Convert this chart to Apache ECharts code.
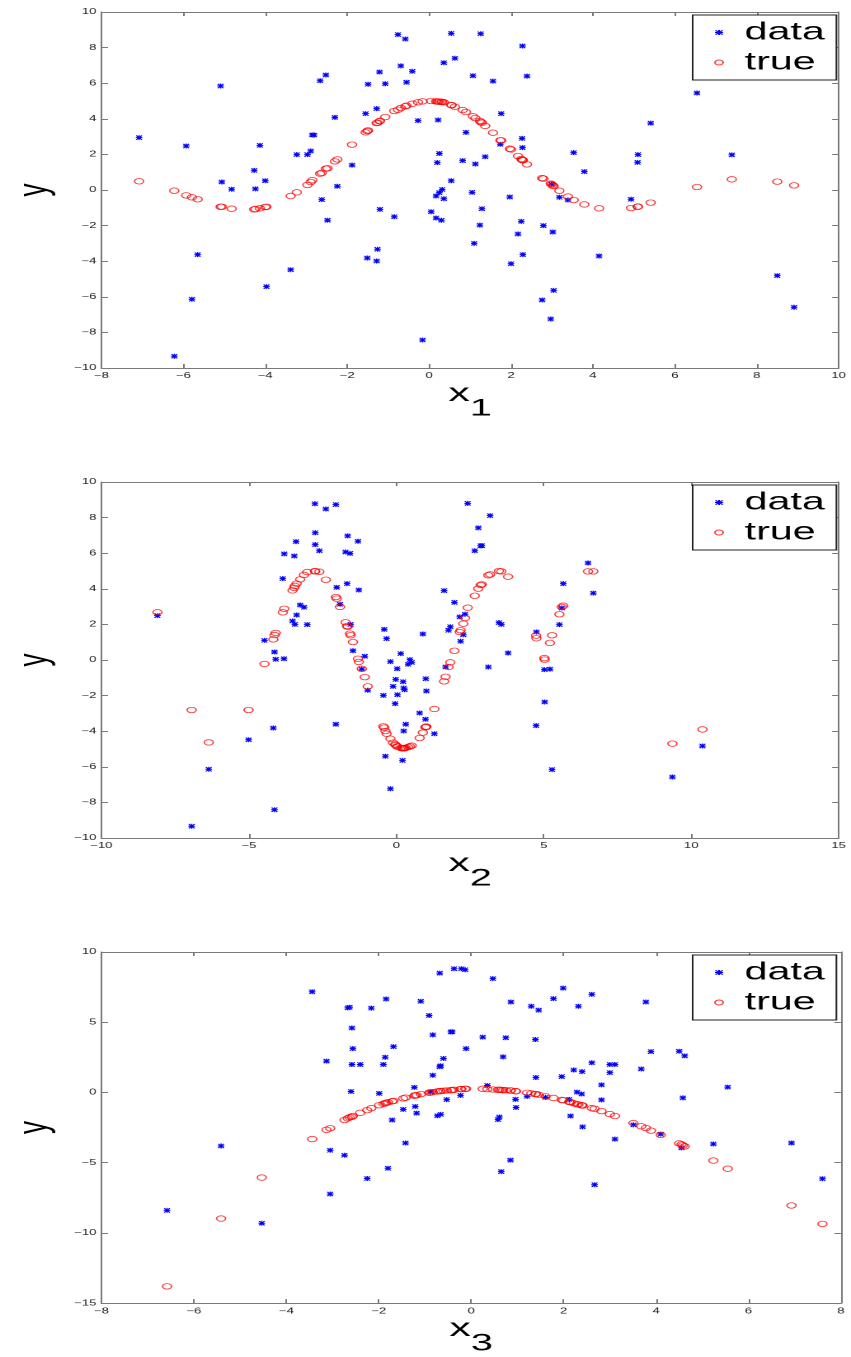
<!DOCTYPE html>
<html>
<head>
<meta charset="utf-8">
<script src="https://cdn.jsdelivr.net/npm/echarts@6.0.0/dist/echarts.min.js"></script>
<style>
  html, body { margin: 0; padding: 0; background: #fff; overflow: hidden; }
  /* the original figure is stretched horizontally, so draw narrow and stretch */
  #chart { width: 516px; height: 1357px; transform: scaleX(1.6492); transform-origin: 0 0; }
</style>
</head>
<body>
<div id="chart"></div>
<script>
// panel 1: y against x1
const p1Data = [[-7.08,2.94],[-5.93,2.47],[-5.09,5.84],[-5.06,0.45],[-4.82,0.04],[-5.65,-3.63],[-5.79,-6.14],[-6.22,-9.34],[-4.13,2.51],[-4.27,1.10],[-4.24,0.06],[-4.00,0.52],[-3.97,-5.43],[-3.38,-4.48],[-3.23,1.99],[-2.97,1.99],[-2.89,2.19],[-2.85,3.09],[-2.81,3.09],[-2.66,6.14],[-2.52,6.46],[-2.62,-0.54],[-2.48,-1.70],[-2.30,4.08],[-2.24,0.21],[-1.88,1.40],[-1.55,4.29],[-1.49,5.94],[-1.28,4.57],[-1.21,6.63],[-1.07,5.97],[-1.20,-1.09],[-1.26,-3.33],[-1.51,-3.82],[-1.28,-3.99],[-0.85,-1.50],[-0.76,8.73],[-0.58,8.48],[-0.69,6.97],[-0.41,6.67],[-0.55,6.05],[-0.27,3.90],[-0.16,-8.43],[0.05,-1.22],[0.17,-1.57],[0.30,-1.70],[0.17,-0.34],[0.25,-0.15],[0.32,0.03],[0.36,-0.49],[0.25,2.05],[0.20,1.54],[0.22,3.93],[0.54,0.52],[0.54,8.80],[0.36,7.15],[0.63,7.40],[0.90,3.24],[0.82,1.65],[1.26,8.78],[2.28,8.09],[1.07,6.42],[2.39,6.40],[1.56,6.12],[1.76,4.29],[2.27,2.90],[1.74,2.57],[2.28,2.38],[1.37,1.87],[1.13,1.46],[1.05,-0.13],[1.97,-0.39],[1.29,-1.05],[2.25,-1.76],[1.24,-1.97],[2.17,-2.47],[1.10,-3.00],[2.29,-3.63],[2.00,-4.14],[2.79,-2.00],[3.02,-2.36],[2.99,0.34],[3.18,-0.41],[3.39,-0.56],[3.53,2.10],[3.79,1.03],[3.04,-5.64],[2.76,-6.18],[2.97,-7.25],[4.15,-3.71],[4.93,-0.52],[5.10,1.99],[5.09,1.55],[5.41,3.76],[6.54,5.45],[7.39,1.97],[8.50,-4.81],[8.91,-6.59]];
const p1True = [[-7.08,0.49],[-6.22,-0.04],[-5.93,-0.30],[-5.79,-0.41],[-5.65,-0.52],[-5.09,-0.94],[-5.06,-0.94],[-4.82,-1.05],[-4.27,-1.09],[-4.24,-1.07],[-4.13,-1.03],[-4.00,-0.96],[-3.97,-0.94],[-3.38,-0.34],[-3.23,-0.13],[-2.97,0.28],[-2.89,0.45],[-2.85,0.55],[-2.66,0.92],[-2.62,0.96],[-2.52,1.20],[-2.48,1.22],[-2.30,1.61],[-2.24,1.72],[-1.88,2.55],[-1.55,3.24],[-1.51,3.31],[-1.49,3.35],[-1.28,3.76],[-1.26,3.78],[-1.21,3.86],[-1.20,3.88],[-1.07,4.10],[-0.85,4.44],[-0.76,4.51],[-0.69,4.61],[-0.58,4.70],[-0.55,4.74],[-0.41,4.85],[-0.27,4.93],[-0.16,4.98],[0.05,5.00],[0.17,4.98],[0.20,4.97],[0.22,4.97],[0.25,4.96],[0.30,4.95],[0.32,4.95],[0.36,4.93],[0.54,4.78],[0.55,4.76],[0.63,4.68],[0.82,4.49],[0.90,4.38],[1.07,4.14],[1.13,4.04],[1.24,3.88],[1.26,3.82],[1.29,3.78],[1.37,3.60],[1.56,3.22],[1.74,2.79],[1.76,2.79],[1.97,2.32],[2.00,2.28],[2.17,1.91],[2.25,1.74],[2.27,1.70],[2.28,1.69],[2.29,1.67],[2.39,1.44],[2.76,0.67],[2.79,0.64],[2.97,0.36],[2.99,0.32],[3.02,0.26],[3.04,0.22],[3.18,-0.04],[3.39,-0.37],[3.53,-0.56],[3.79,-0.81],[4.15,-1.03],[4.93,-1.01],[5.09,-0.94],[5.10,-0.93],[5.41,-0.71],[6.54,0.17],[7.39,0.60],[8.50,0.47],[8.91,0.26]];

// panel 2: y against x2
const p2Data = [[-8.10,2.49],[-6.94,-9.34],[-6.36,-6.14],[-5.01,-4.48],[-4.47,1.10],[-4.17,-3.82],[-4.13,0.45],[-4.09,0.04],[-4.13,-8.41],[-3.85,4.57],[-3.80,5.96],[-3.81,0.07],[-3.46,5.84],[-3.40,6.65],[-3.52,2.19],[-3.44,2.00],[-3.38,2.53],[-3.26,3.09],[-3.13,2.96],[-3.02,1.99],[-2.76,8.78],[-2.75,7.15],[-2.75,6.48],[-2.61,6.14],[-2.39,8.48],[-2.05,8.73],[-2.05,-3.61],[-2.02,4.08],[-1.91,3.13],[-1.72,6.07],[-1.65,6.97],[-1.57,5.99],[-1.67,4.29],[-1.55,2.00],[-1.47,0.52],[-1.30,6.67],[-1.27,3.93],[-1.17,-0.51],[-1.07,0.21],[-0.97,-1.70],[-0.41,1.72],[-0.33,1.20],[-0.44,-1.99],[-0.37,-5.41],[-0.20,-0.09],[-0.20,-7.23],[-0.04,-2.45],[-0.02,-1.09],[0.03,-0.49],[0.04,-1.95],[-0.11,-1.48],[0.15,0.36],[0.23,-1.22],[0.25,-1.57],[0.28,-1.67],[0.25,-3.99],[0.32,-3.61],[0.21,-5.64],[0.40,-0.24],[0.46,0.02],[0.52,-0.13],[0.79,-2.98],[0.90,1.46],[1.00,-1.05],[1.02,-1.74],[0.99,-3.33],[1.29,-4.14],[1.62,3.90],[1.67,-0.39],[1.77,1.67],[1.83,1.87],[1.97,3.24],[2.15,2.42],[2.18,1.05],[2.27,1.42],[2.33,2.57],[2.42,8.80],[3.18,8.11],[2.78,7.42],[2.86,6.42],[2.90,6.42],[2.66,6.14],[3.12,-0.39],[3.48,2.10],[3.56,2.00],[3.79,0.39],[4.75,1.57],[4.74,-3.69],[5.02,-0.54],[5.21,-0.51],[5.03,-2.36],[5.28,-6.16],[5.53,1.99],[5.61,2.92],[5.66,4.29],[6.50,5.45],[6.68,3.76],[9.36,-6.57],[10.38,-4.83]];
const p2True = [[-8.10,2.68],[-6.94,-2.81],[-6.36,-4.63],[-5.01,-2.81],[-4.47,-0.22],[-4.17,1.16],[-4.13,1.40],[-4.09,1.52],[-3.85,2.68],[-3.80,2.88],[-3.52,3.91],[-3.46,4.06],[-3.44,4.16],[-3.38,4.29],[-3.26,4.53],[-3.13,4.78],[-3.02,4.94],[-2.76,5.00],[-2.75,4.98],[-2.61,4.96],[-2.39,4.51],[-2.05,3.54],[-2.02,3.45],[-1.91,2.98],[-1.72,2.12],[-1.67,1.91],[-1.65,1.87],[-1.57,1.48],[-1.55,1.39],[-1.47,1.01],[-1.30,0.07],[-1.27,-0.11],[-1.17,-0.49],[-1.07,-0.96],[-0.97,-1.48],[-0.44,-3.73],[-0.41,-3.80],[-0.37,-3.99],[-0.33,-4.14],[-0.20,-4.42],[-0.11,-4.64],[-0.04,-4.74],[-0.02,-4.78],[0.03,-4.85],[0.04,-4.87],[0.15,-4.94],[0.21,-4.96],[0.23,-4.96],[0.25,-4.96],[0.28,-4.95],[0.32,-4.93],[0.40,-4.89],[0.46,-4.85],[0.52,-4.81],[0.79,-4.38],[0.90,-4.08],[0.99,-3.78],[1.00,-3.76],[1.02,-3.74],[1.29,-2.75],[1.62,-1.20],[1.67,-0.94],[1.77,-0.39],[1.83,-0.13],[1.97,0.52],[2.15,1.57],[2.18,1.67],[2.27,2.04],[2.33,2.36],[2.42,2.94],[2.66,3.61],[2.78,4.01],[2.86,4.21],[2.90,4.25],[3.12,4.76],[3.18,4.81],[3.48,5.00],[3.56,4.98],[3.79,4.68],[4.74,1.37],[4.75,1.22],[5.02,0.11],[5.03,0.02],[5.21,0.96],[5.28,1.39],[5.53,2.57],[5.61,2.98],[5.66,3.05],[6.50,4.98],[6.68,4.98],[9.36,-4.70],[10.38,-3.90]];

// panel 3: y against x3
const p3Data = [[-3.44,7.17],[-2.67,6.02],[-2.63,6.07],[-2.16,6.00],[-1.84,6.65],[-1.09,6.49],[-0.91,5.48],[-0.83,4.10],[-0.68,8.50],[-0.37,8.81],[-0.21,8.81],[-0.13,8.74],[-0.44,4.31],[-0.41,4.31],[-0.11,3.12],[-2.58,4.59],[-2.56,3.12],[-1.68,3.26],[-1.86,2.51],[-1.90,1.99],[-3.13,2.23],[-2.58,1.99],[-2.40,1.99],[-0.60,2.42],[-0.68,1.83],[-0.66,1.90],[-0.83,1.22],[-1.23,0.36],[-2.60,0.07],[-1.99,-0.07],[-0.88,0.05],[-0.53,-0.51],[-0.23,-0.21],[-1.47,-1.21],[-1.21,-1.00],[-1.18,-1.47],[-1.71,-1.96],[-0.73,-1.66],[-0.66,-1.56],[-1.42,-3.60],[-3.05,-4.12],[-2.74,-4.47],[-1.80,-5.40],[-2.25,-6.13],[-3.05,-7.23],[-5.41,-3.81],[-6.58,-8.40],[-4.53,-9.31],[0.47,8.10],[0.86,6.44],[1.30,6.14],[1.46,5.86],[1.78,6.68],[1.99,7.43],[2.32,6.14],[2.61,6.98],[3.78,6.44],[0.25,3.94],[0.75,3.89],[1.39,3.77],[0.69,2.53],[3.89,2.91],[4.50,2.93],[4.62,2.60],[2.61,2.11],[3.00,1.99],[3.11,1.99],[2.22,1.60],[2.40,1.48],[3.00,1.41],[3.68,1.67],[1.96,1.13],[1.40,1.06],[2.82,0.54],[0.35,0.49],[5.55,0.38],[2.29,0.02],[2.39,-0.11],[1.21,-0.28],[0.96,-0.49],[1.61,-0.35],[2.12,-0.49],[2.82,-0.53],[4.58,-0.39],[0.97,-1.07],[0.61,-1.75],[0.58,-1.94],[2.15,-1.68],[2.41,-2.45],[3.11,-3.32],[3.51,-2.31],[4.10,-2.97],[4.55,-3.95],[5.24,-3.67],[6.93,-3.60],[0.85,-4.82],[0.65,-5.64],[2.67,-6.57],[7.60,-6.15]];
const p3True = [[-6.58,-13.81],[-5.41,-8.98],[-4.53,-6.06],[-3.44,-3.32],[-3.13,-2.66],[-3.05,-2.55],[-2.74,-1.96],[-2.67,-1.84],[-2.63,-1.77],[-2.58,-1.73],[-2.56,-1.68],[-2.40,-1.45],[-2.25,-1.26],[-2.16,-1.12],[-1.99,-0.91],[-1.90,-0.81],[-1.86,-0.77],[-1.84,-0.74],[-1.80,-0.70],[-1.71,-0.63],[-1.68,-0.60],[-1.47,-0.42],[-1.42,-0.37],[-1.23,-0.23],[-1.21,-0.21],[-1.18,-0.19],[-1.09,-0.12],[-0.91,-0.02],[-0.88,0.00],[-0.83,0.02],[-0.73,0.07],[-0.68,0.09],[-0.66,0.10],[-0.60,0.12],[-0.53,0.14],[-0.44,0.16],[-0.41,0.17],[-0.37,0.19],[-0.23,0.24],[-0.21,0.24],[-0.13,0.26],[-0.11,0.26],[0.25,0.26],[0.35,0.24],[0.47,0.21],[0.58,0.19],[0.61,0.19],[0.65,0.18],[0.69,0.16],[0.75,0.16],[0.85,0.14],[0.86,0.14],[0.96,0.09],[0.97,0.09],[1.21,-0.02],[1.30,-0.07],[1.39,-0.11],[1.40,-0.11],[1.46,-0.16],[1.61,-0.28],[1.78,-0.39],[1.96,-0.53],[1.99,-0.56],[2.12,-0.67],[2.15,-0.69],[2.22,-0.77],[2.29,-0.84],[2.32,-0.86],[2.39,-0.91],[2.40,-0.92],[2.41,-0.93],[2.61,-1.12],[2.67,-1.16],[2.82,-1.33],[3.00,-1.54],[3.11,-1.68],[3.51,-2.18],[3.68,-2.41],[3.78,-2.53],[3.89,-2.72],[4.10,-3.02],[4.50,-3.63],[4.55,-3.70],[4.58,-3.77],[4.62,-3.84],[5.24,-4.85],[5.55,-5.43],[6.93,-8.05],[7.60,-9.36]];

// axis ranges per panel
const xRanges = [[-8, 10, 2], [-10, 15, 5], [-8, 8, 2]];
const yRanges = [[-10, 10, 2], [-10, 10, 2], [-15, 10, 5]];
const xNames = ['1', '2', '3'];
const panelTops = [12, 482, 952];
const seriesData = [[p1Data, p1True], [p2Data, p2True], [p3Data, p3True]];

const FONT = 'Liberation Sans';
const STAR = 'path://M0,4H10V6H0Z M4,0H6V10H4Z M1.4,0L10,8.6L8.6,10L0,1.4Z M8.6,0L10,1.4L1.4,10L0,8.6Z';
const RING = 'path://M5,0A5,5,0,1,1,5,10A5,5,0,1,1,5,0Z';
const minus = v => String(v).replace('-', '\u2212');

const chart = echarts.init(document.getElementById('chart'), null, { devicePixelRatio: 2 });

const grid = [], xAxis = [], yAxis = [], series = [], legend = [];
const boxLine = { show: true, onZero: false, lineStyle: { color: '#7a7a7a', width: 1 } };
const tick = { show: true, inside: true, length: 4, lineStyle: { color: '#7a7a7a' } };

panelTops.forEach((top, i) => {
  grid.push({ left: 49.1, width: 460.8, top: top, height: 356 });
  const [xmin, xmax, xstep] = xRanges[i];
  const [ymin, ymax, ystep] = yRanges[i];
  xAxis[i] = {
    type: 'value', gridIndex: i, position: 'bottom', min: xmin, max: xmax, interval: xstep,
    axisLine: boxLine, axisTick: tick, splitLine: { show: false },
    axisLabel: { fontSize: 8, color: '#222', fontFamily: FONT, margin: 4, formatter: minus },
    name: '{a|x}{b|' + xNames[i] + '}', nameLocation: 'middle', nameGap: 10,
    nameTextStyle: {
      rich: {
        a: { fontSize: 26, fontFamily: FONT, color: '#000', padding: [0, 0, 30, 0] },
        b: { fontSize: 24, fontFamily: FONT, color: '#000' }
      }
    }
  };
  xAxis[i + 3] = {
    type: 'value', gridIndex: i, position: 'top', min: xmin, max: xmax, interval: xstep,
    axisLine: boxLine, axisTick: tick, axisLabel: { show: false }, splitLine: { show: false }
  };
  yAxis[i] = {
    type: 'value', gridIndex: i, position: 'left', min: ymin, max: ymax, interval: ystep,
    axisLine: boxLine, axisTick: tick, splitLine: { show: false },
    axisLabel: { fontSize: 8, color: '#222', fontFamily: FONT, margin: 3, formatter: minus },
    name: 'y', nameLocation: 'middle', nameRotate: 90, nameGap: 20,
    nameTextStyle: { fontSize: 26, fontFamily: FONT, color: '#000' }
  };
  yAxis[i + 3] = {
    type: 'value', gridIndex: i, position: 'right', min: ymin, max: ymax, interval: ystep,
    axisLine: boxLine, axisTick: tick, axisLabel: { show: false }, splitLine: { show: false }
  };
  series.push({
    name: 'data', type: 'scatter', xAxisIndex: i, yAxisIndex: i,
    symbol: STAR, symbolSize: [4, 5], itemStyle: { color: '#0000ff', opacity: 1 },
    data: seriesData[i][0]
  });
  series.push({
    name: 'true', type: 'scatter', xAxisIndex: i, yAxisIndex: i,
    symbol: RING, symbolSize: 5.5,
    itemStyle: { color: 'rgba(0,0,0,0)', borderColor: '#ff0000', borderWidth: 0.8 },
    data: seriesData[i][1]
  });
  legend.push({
    left: 420, top: top + 3, orient: 'vertical', selectedMode: false,
    padding: [5, 7, 5, 13], itemGap: 5, itemWidth: 21, itemHeight: 5,
    backgroundColor: '#fff', borderColor: '#222', borderWidth: 1,
    textStyle: { fontSize: 25, fontFamily: FONT, color: '#000' },
    data: [
      { name: 'data' },
      { name: 'true', itemStyle: { color: 'rgba(0,0,0,0)', borderColor: '#ff0000', borderWidth: 1 } }
    ]
  });
});

chart.setOption({
  backgroundColor: '#fff',
  animation: false,
  grid: grid,
  xAxis: xAxis,
  yAxis: yAxis,
  legend: legend,
  series: series
});
</script>
</body>
</html>
